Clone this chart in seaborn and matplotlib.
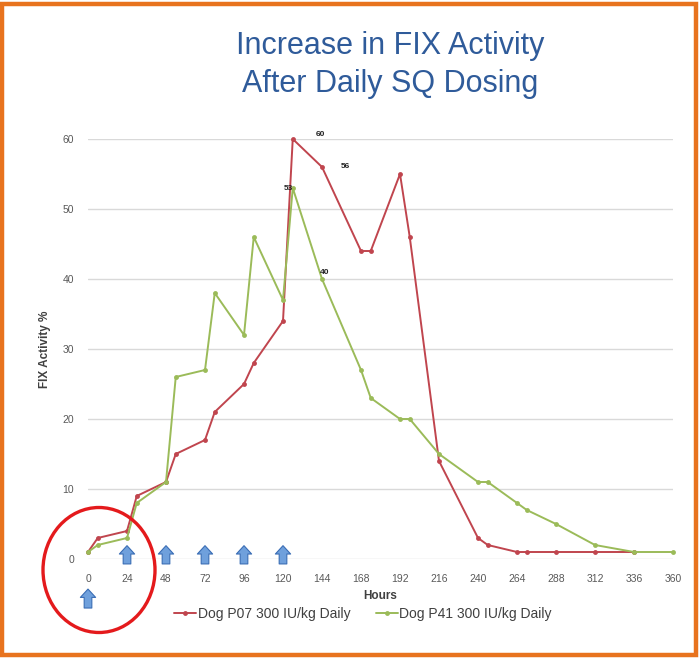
import numpy as np
import pandas as pd
import matplotlib.pyplot as plt
import seaborn as sns
from matplotlib.patches import Ellipse, Rectangle

# ── data ────────────────────────────────────────────────────
hours_p07 = [0, 6, 24, 30, 48, 54, 72, 78, 96, 102, 120, 126, 144,
             168, 174, 192, 198, 216, 240, 246, 264, 270, 288, 312, 336]
fix_p07 = [1, 3, 4, 9, 11, 15, 17, 21, 25, 28, 34, 60, 56,
           44, 44, 55, 46, 14, 3, 2, 1, 1, 1, 1, 1]

hours_p41 = [0, 6, 24, 30, 48, 54, 72, 78, 96, 102, 120, 126, 144,
             168, 174, 192, 198, 216, 240, 246, 264, 270, 288, 312, 336, 360]
fix_p41 = [1, 2, 3, 8, 11, 26, 27, 38, 32, 46, 37, 53, 40,
           27, 23, 20, 20, 15, 11, 11, 8, 7, 5, 2, 1, 1]

series_names = ["Dog P07 300 IU/kg Daily", "Dog P41 300 IU/kg Daily"]
dose_hours = [0, 24, 48, 72, 96, 120]
x_ticks = list(range(0, 361, 24))
y_ticks = list(range(0, 61, 10))

# labelled points: (series index, hour, text)
point_labels = [(0, 126, "60"), (0, 144, "56"), (1, 126, "53"), (1, 144, "40")]

df = pd.concat([
    pd.DataFrame({"Hours": hours_p07, "FIX": fix_p07, "Dog": series_names[0]}),
    pd.DataFrame({"Hours": hours_p41, "FIX": fix_p41, "Dog": series_names[1]}),
])

sns.set_style("white")
plt.rcParams["font.family"] = ["Liberation Sans", "DejaVu Sans"]

red = "#c0454e"
green = "#9bbb59"

fig = plt.figure(figsize=(6.99, 6.58), dpi=100)
ax = fig.add_axes([88 / 699, 1 - 559 / 658, 585 / 699, 420 / 658])

sns.lineplot(data=df, x="Hours", y="FIX", hue="Dog", palette=[red, green],
             marker="o", markersize=3.5, markeredgewidth=0, linewidth=1.4,
             ax=ax, clip_on=False)

ax.set_xlim(0, 360)
ax.set_ylim(0, 60)
ax.set_xticks(x_ticks)
ax.set_yticks(y_ticks)
ax.tick_params(axis="both", length=0, labelsize=7.5, labelcolor="#595959")
ax.tick_params(axis="x", pad=11)
ax.tick_params(axis="y", pad=10)
ax.grid(axis="y", color="#d9d9d9", lw=1)
ax.set_axisbelow(True)
sns.despine(ax=ax, left=True, bottom=True)

ax.set_xlabel("Hours", fontsize=8.5, fontweight="bold", color="#404040", labelpad=4)
ax.set_ylabel("FIX Activity %", fontsize=8.5, fontweight="bold", color="#404040", labelpad=8)

# data labels
offsets = {"60": (20, 3), "56": (17, 0), "53": (-3, 0), "40": (2, 5)}
for si, h, txt in point_labels:
    hs = hours_p07 if si == 0 else hours_p41
    vs = fix_p07 if si == 0 else fix_p41
    ax.annotate(txt, xy=(h, vs[hs.index(h)]), xytext=offsets[txt],
                textcoords="offset points", ha="center", va="center",
                fontsize=6, fontweight="bold", color="#222222",
                annotation_clip=False)

# dosing arrows
for h in dose_hours:
    base, tip = (-1.1, 2.3) if h > 0 else (-7.4, -3.9)
    ax.annotate("", xy=(h, tip), xytext=(h, base), annotation_clip=False,
                arrowprops=dict(arrowstyle="simple,head_width=1.1,head_length=0.6,tail_width=0.55",
                                fc="#6fa0dc", ec="#3a6db5", lw=0.8))

sns.move_legend(ax, "center", bbox_to_anchor=(0.47, -0.131), ncol=2,
                frameon=False, title=None, fontsize=10, handlelength=1.6,
                columnspacing=1.8, handletextpad=0.1, labelcolor="#404040")

# title
fig.text(390 / 699, 1 - 46 / 658, "Increase in FIX Activity", ha="center", va="center",
         fontsize=22, color="#2f5b9a")
fig.text(390 / 699, 1 - 84 / 658, "After Daily SQ Dosing", ha="center", va="center",
         fontsize=22, color="#2f5b9a")

# red circle round the origin
fig.patches.append(Ellipse((99 / 699, 1 - 570 / 658), 112 / 699, 125 / 658,
                           transform=fig.transFigure, fill=False,
                           ec="#e41a1c", lw=2.4))

# orange frame
fig.patches.append(Rectangle((0.003, 0.004), 0.992, 0.99, transform=fig.transFigure,
                             fill=False, ec="#e8731e", lw=3.2))

fig.savefig("out.png", dpi=100)
